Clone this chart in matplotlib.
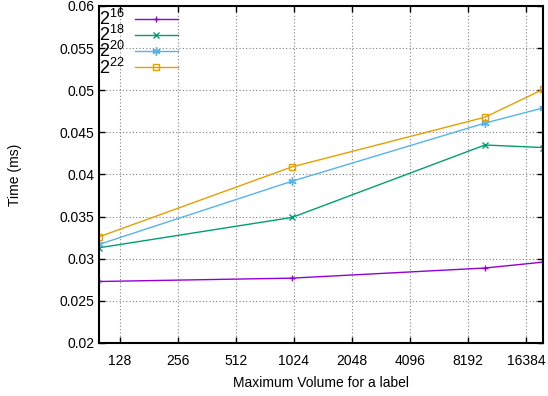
import matplotlib
matplotlib.use("Agg")
import matplotlib.pyplot as plt
from matplotlib.ticker import FixedLocator, FixedFormatter

plt.rcParams['font.family'] = ['Liberation Sans', 'DejaVu Sans']
plt.rcParams['mathtext.fontset'] = 'custom'
plt.rcParams['mathtext.rm'] = 'Liberation Sans'
plt.rcParams['mathtext.it'] = 'Liberation Sans'

x_vals = [100, 1000, 10000, 20000]
series_labels = [r'$\mathregular{2^{16}}$', r'$\mathregular{2^{18}}$', r'$\mathregular{2^{20}}$', r'$\mathregular{2^{22}}$']
y_2_16 = [0.0273, 0.0277, 0.0289, 0.0296]
y_2_18 = [0.0313, 0.0349, 0.0435, 0.0432]
y_2_20 = [0.0317, 0.0392, 0.0461, 0.0479]
y_2_22 = [0.0326, 0.0409, 0.0468, 0.0501]
x_ticks = [128, 256, 512, 1024, 2048, 4096, 8192, 16384]
y_ticks = [0.02, 0.025, 0.03, 0.035, 0.04, 0.045, 0.05, 0.055, 0.06]
y_tick_labels = ['0.02', '0.025', '0.03', '0.035', '0.04', '0.045', '0.05', '0.055', '0.06']

colors = ['#9400d3', '#009e73', '#56b4e9', '#e69f00']
markers = ['+', 'x', '*', 's']

fig = plt.figure(figsize=(5.48, 3.96), dpi=100)
ax = fig.add_axes([99/548, 1 - 343/396, (543 - 99)/548, (343 - 6)/396])

for ys, lab, c, m in zip([y_2_16, y_2_18, y_2_20, y_2_22], series_labels, colors, markers):
    kw = dict(color=c, lw=1.0, marker=m, markersize=5, label=lab)
    if m == 's':
        kw.update(markerfacecolor='none', markeredgewidth=1.0, markersize=5)
    elif m == '*':
        kw.update(marker=(6, 2, 0), markeredgewidth=1.0, markersize=6)
    else:
        kw.update(markeredgewidth=1.0)
    ax.plot(x_vals, ys, **kw)

ax.set_xscale('log', base=2)
ax.set_xlim(100, 20000)
ax.set_ylim(0.02, 0.06)
ax.xaxis.set_major_locator(FixedLocator(x_ticks))
ax.xaxis.set_major_formatter(FixedFormatter([str(t) for t in x_ticks]))
ax.xaxis.set_minor_locator(FixedLocator([]))
ax.yaxis.set_major_locator(FixedLocator(y_ticks))
ax.yaxis.set_major_formatter(FixedFormatter(y_tick_labels))

ax.tick_params(which='both', direction='in', top=True, right=True, length=4, width=1, labelsize=10, colors='black')
ax.tick_params(axis='x', pad=8)
ax.grid(True, color='#808080', linestyle=(0, (1, 2)), linewidth=0.8)
for sp in ax.spines.values():
    sp.set_linewidth(1.5)

ax.set_xlabel('Maximum Volume for a label', fontsize=10, labelpad=6)
ax.set_ylabel('Time (ms)', fontsize=10, labelpad=27)

leg = ax.legend(loc='upper left', markerfirst=False, frameon=False, fontsize=13,
                handlelength=2.4, borderaxespad=0.0, borderpad=0.0,
                labelspacing=-0.22, handletextpad=0.55,
                bbox_to_anchor=(0.0, 0.991))
for t in leg.get_texts():
    t.set_ha('right')

fig.savefig('out.png', dpi=100)
